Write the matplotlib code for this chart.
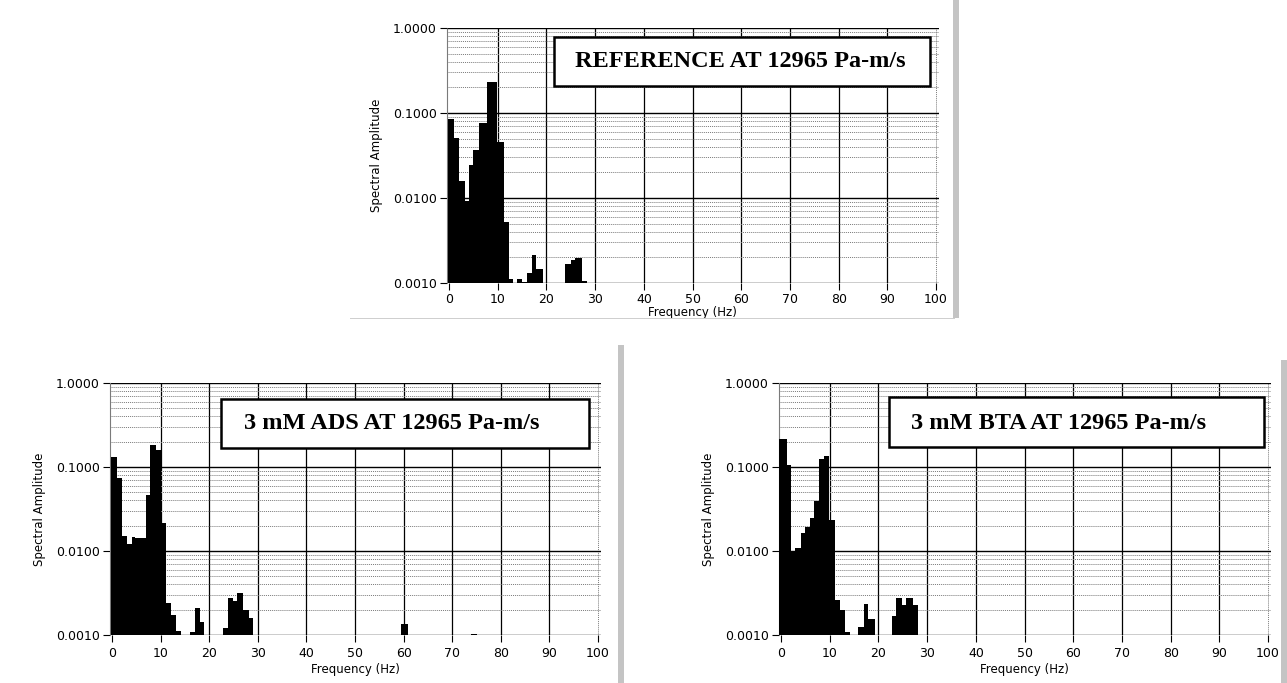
import matplotlib
matplotlib.use('Agg')
import matplotlib.pyplot as plt
import numpy as np
from matplotlib.patches import Rectangle
from matplotlib.ticker import FuncFormatter, LogLocator, NullFormatter

# bin edges (Hz) and spectral amplitude of each bar
ref_lo = [-0.2, 1.05, 2.1, 3.2, 4.1, 5.0, 6.2, 7.8, 9.9, 11.2, 12.3,
          13.9, 15.0, 16.0, 17.1, 17.9, 23.8, 25.0, 25.9, 27.2]
ref_hi = [1.05, 2.1, 3.2, 4.1, 5.0, 6.2, 7.8, 9.9, 11.2, 12.3, 13.2,
          15.0, 16.0, 17.1, 17.9, 19.2, 25.0, 25.9, 27.2, 28.3]
ref_amp = [0.085, 0.051, 0.016, 0.0093, 0.0244, 0.0367, 0.076, 0.229, 0.046, 0.0052, 0.00112,
           0.0011, 0.00103, 0.00131, 0.00212, 0.00147, 0.00169, 0.00185, 0.00199, 0.00107]

ads_lo = [-0.3, 1.0, 2.0, 3.05, 4.1, 4.8, 6.9, 7.9, 8.95, 10.0, 11.2, 12.2, 13.1,
          16.0, 17.0, 18.2, 22.8, 23.8, 24.9, 25.8, 26.9, 28.1, 59.5, 73.9]
ads_hi = [1.0, 2.0, 3.05, 4.1, 4.8, 6.9, 7.9, 8.95, 10.0, 11.2, 12.2, 13.1, 14.1,
          17.0, 18.2, 19.0, 23.8, 24.9, 25.8, 26.9, 28.1, 29.0, 60.8, 75.0]
ads_amp = [0.133, 0.0743, 0.0151, 0.0121, 0.0148, 0.0142, 0.0463, 0.185, 0.16, 0.0218, 0.0024, 0.00172, 0.00111,
           0.0011, 0.0021, 0.00143, 0.0012, 0.00277, 0.00253, 0.00318, 0.00197, 0.00161, 0.00136, 0.00104]

bta_lo = [-0.4, 1.2, 2.0, 2.9, 4.0, 4.9, 5.9, 6.7, 7.8, 8.8, 9.9, 11.1, 12.2, 13.2,
          15.8, 17.0, 17.9, 22.7, 23.6, 24.9, 25.7, 27.1]
bta_hi = [1.2, 2.0, 2.9, 4.0, 4.9, 5.9, 6.7, 7.8, 8.8, 9.9, 11.1, 12.2, 13.2, 14.2,
          17.0, 17.9, 19.2, 23.6, 24.9, 25.7, 27.1, 28.2]
bta_amp = [0.215, 0.105, 0.0097, 0.0108, 0.0164, 0.0192, 0.0246, 0.0395, 0.123, 0.137, 0.0236, 0.00263, 0.002, 0.0011,
           0.00125, 0.00236, 0.00153, 0.00167, 0.00277, 0.00225, 0.00277, 0.00225]

titles = ['REFERENCE AT 12965 Pa-m/s', '3 mM ADS AT 12965 Pa-m/s', '3 mM BTA AT 12965 Pa-m/s']
x_ticks = list(range(0, 101, 10))
y_ticks = [0.001, 0.01, 0.1, 1.0]

YMIN = 1e-3


def draw_panel(ax, lo, hi, amp, title, box, text_xy, xpad=3.5, xlabelpad=2):
    lo, hi, amp = np.array(lo), np.array(hi), np.array(amp)
    ax.set_yscale('log')
    ax.set_xlim(-0.5, 100.5)
    ax.set_ylim(YMIN, 1.0)

    ax.bar(lo, amp - YMIN, width=hi - lo, bottom=YMIN, align='edge',
           color='black', linewidth=0, zorder=3)

    ax.set_xticks(x_ticks)
    ax.set_yticks(y_ticks)
    ax.yaxis.set_major_formatter(FuncFormatter(lambda v, _: f'{v:.4f}'))
    ax.yaxis.set_minor_locator(LogLocator(base=10, subs=np.arange(2, 10)))
    ax.yaxis.set_minor_formatter(NullFormatter())
    ax.tick_params(which='minor', length=0)
    ax.tick_params(which='major', direction='out', length=5, width=0.8,
                   labelsize=9, pad=2)
    ax.tick_params(axis='x', pad=xpad)

    ax.grid(which='minor', axis='y', color='#7a7a7a', linestyle=(0, (1, 1)), linewidth=0.7, zorder=1)
    ax.grid(which='major', axis='y', color='black', linewidth=1.0, zorder=1)
    ax.grid(which='major', axis='x', color='black', linewidth=0.9, zorder=1)
    xg = ax.get_xgridlines()
    xg[0].set_visible(False)
    xg[-1].set_color('#7a7a7a')
    xg[-1].set_linestyle((0, (1, 1)))
    xg[-1].set_linewidth(0.7)

    for s in ['top', 'right', 'bottom']:
        ax.spines[s].set_visible(False)
    ax.spines['left'].set_color('#7a7a7a')
    ax.spines['left'].set_linestyle((0, (1, 1)))
    ax.spines['left'].set_linewidth(0.8)

    ax.set_xlabel('Frequency (Hz)', fontsize=8.5, labelpad=xlabelpad)
    ax.set_ylabel('Spectral Amplitude', fontsize=8.5, labelpad=7)

    bx, by, bw, bh = box
    ax.add_patch(Rectangle((bx, by), bw, bh, transform=ax.transAxes, facecolor='white',
                           edgecolor='black', linewidth=1.8, zorder=5, clip_on=False))
    ax.text(text_xy[0], text_xy[1], title, transform=ax.transAxes, ha='center', va='center',
            fontsize=17.5, fontweight='bold', family='Liberation Serif', zorder=6)


fig = plt.figure(figsize=(12.87, 6.83), dpi=100)
W, H = 1287, 683

ax_ref = fig.add_axes([446.6 / W, 1 - 283 / H, 491.9 / W, 255 / H])
ax_ads = fig.add_axes([109.6 / W, 1 - 635 / H, 490.9 / W, 252 / H])
ax_bta = fig.add_axes([778.6 / W, 1 - 635 / H, 491.9 / W, 252 / H])

draw_panel(ax_ref, ref_lo, ref_hi, ref_amp, titles[0], (0.218, 0.7725, 0.764, 0.192), (0.597, 0.869),
           xpad=2, xlabelpad=0.5)
draw_panel(ax_ads, ads_lo, ads_hi, ads_amp, titles[1], (0.227, 0.742, 0.750, 0.194), (0.574, 0.839))
draw_panel(ax_bta, bta_lo, bta_hi, bta_amp, titles[2], (0.2244, 0.746, 0.762, 0.198), (0.569, 0.841))

# grey scan edges around the pasted panels
for x0, x1, y0, y1 in [(953, 959, 0, 318), (618, 624, 345, 683), (1281, 1287, 360, 683)]:
    fig.patches.append(Rectangle((x0 / W, 1 - y1 / H), (x1 - x0) / W, (y1 - y0) / H,
                                 transform=fig.transFigure, facecolor='#c4c4c4',
                                 edgecolor='none', zorder=0))
fig.patches.append(Rectangle((350 / W, 1 - 319 / H), 605 / W, 1.2 / H, transform=fig.transFigure,
                             facecolor='#cfcfcf', edgecolor='none', zorder=0))

fig.savefig('out.png', dpi=100, facecolor='white')
